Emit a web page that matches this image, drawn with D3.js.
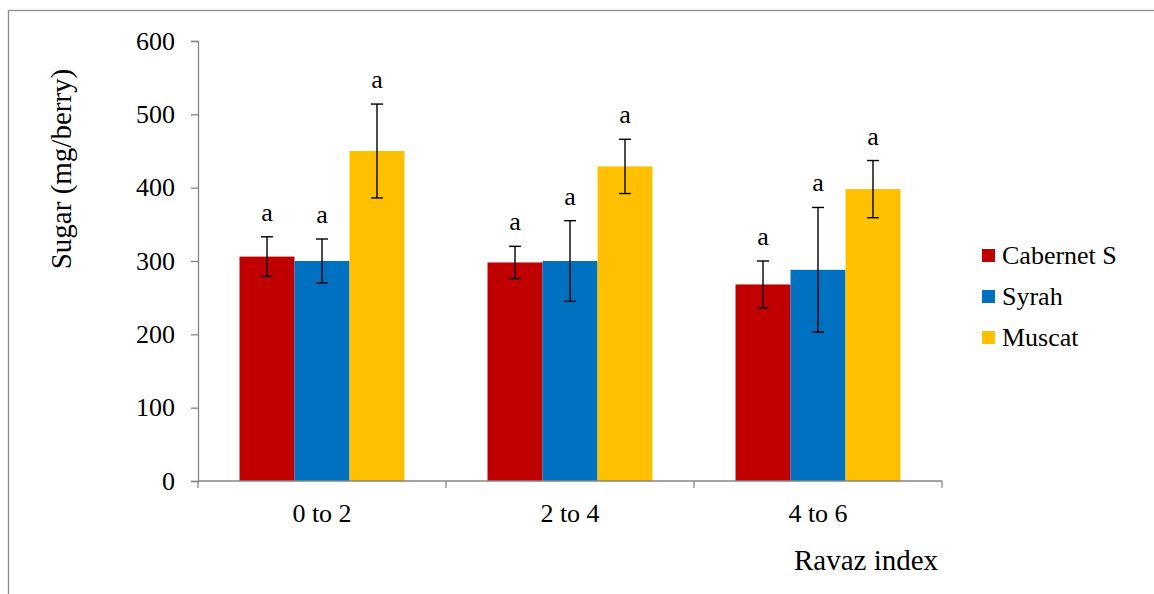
<!DOCTYPE html>
<html>
<head>
<meta charset="utf-8">
<script src="https://cdn.jsdelivr.net/npm/d3@7"></script>
<style>
  html, body { margin: 0; padding: 0; background: #fff; }
  svg { display: block; }
</style>
</head>
<body>
<svg id="chart" width="1154" height="594"></svg>
<script>
// ---- data ----
const categories = ["0 to 2", "2 to 4", "4 to 6"];
const seriesNames = ["Cabernet S", "Syrah", "Muscat"];
const cabernetValues = [306, 298, 268];
const cabernetErrors = [27, 22, 32];
const syrahValues = [300, 300, 288];
const syrahErrors = [30, 55, 85];
const muscatValues = [450, 429, 398];
const muscatErrors = [64, 37, 39];
const significanceLetters = ["a", "a", "a"];
const yTicks = [0, 100, 200, 300, 400, 500, 600];
const yTitle = "Sugar (mg/berry)";
const xTitle = "Ravaz index";

const colors = ["#C00000", "#0070C0", "#FFC000"];
const seriesValues = [cabernetValues, syrahValues, muscatValues];
const seriesErrors = [cabernetErrors, syrahErrors, muscatErrors];
const FONT = "'Liberation Serif', 'Times New Roman', 'DejaVu Serif', serif";

const svg = d3.select("#chart");

// chart border
svg.append("rect")
  .attr("x", 8.5).attr("y", 10.5)
  .attr("width", 1170).attr("height", 600)
  .attr("fill", "none").attr("stroke", "#8c8c8c").attr("stroke-width", 1.3);

const plotLeft = 198, plotRight = 942, plotTop = 41, plotBottom = 481;

const x0 = d3.scaleBand().domain(categories).range([plotLeft, plotRight]).padding(0);
const x1 = d3.scaleBand().domain(seriesNames).range([0, x0.bandwidth()])
  .paddingInner(0).paddingOuter(0.755);
const y = d3.scaleLinear().domain([0, 600]).range([plotBottom, plotTop]);

const axisColor = "#868686";

// bars
const data = [];
categories.forEach((c, ci) => {
  seriesNames.forEach((s, si) => {
    data.push({ c, s, si, v: seriesValues[si][ci], e: seriesErrors[si][ci], l: significanceLetters[si] });
  });
});

const g = svg.append("g");
g.selectAll("rect.bar").data(data).enter().append("rect")
  .attr("class", "bar")
  .attr("x", d => x0(d.c) + x1(d.s))
  .attr("y", d => y(d.v))
  .attr("width", x1.bandwidth())
  .attr("height", d => y(0) - y(d.v))
  .attr("fill", d => colors[d.si]);

// axes
const yAxis = d3.axisLeft(y).tickValues(yTicks).tickSize(7).tickPadding(16).tickFormat(d3.format("d"));
const ya = svg.append("g").attr("transform", `translate(${plotLeft},0)`).call(yAxis);
ya.attr("font-family", null).attr("font-size", null);
ya.select(".domain").attr("stroke", axisColor).attr("stroke-width", 1.3);
ya.selectAll(".tick line").attr("stroke", axisColor).attr("stroke-width", 1.3);
ya.selectAll(".tick text").style("font-size", "26px").style("font-family", FONT).attr("fill", "#000");

const xa = svg.append("g").attr("transform", `translate(0,${plotBottom})`);
xa.append("line").attr("x1", plotLeft).attr("x2", plotRight).attr("y1", 0).attr("y2", 0)
  .attr("stroke", axisColor).attr("stroke-width", 1.3);
const xBounds = categories.map(c => x0(c)).concat([plotRight]);
xa.selectAll("line.tk").data(xBounds).enter().append("line")
  .attr("class", "tk")
  .attr("x1", d => d).attr("x2", d => d).attr("y1", 0).attr("y2", 7)
  .attr("stroke", axisColor).attr("stroke-width", 1.3);
xa.selectAll("text.cat").data(categories).enter().append("text")
  .attr("class", "cat")
  .attr("x", d => x0(d) + x0.bandwidth() / 2)
  .attr("y", 41)
  .attr("text-anchor", "middle")
  .style("font-size", "26px").style("font-family", FONT)
  .text(d => d);

// error bars
const eb = svg.append("g").attr("stroke", "#000").attr("stroke-width", 1.4);
const cx = d => x0(d.c) + x1(d.s) + x1.bandwidth() / 2;
eb.selectAll("line.v").data(data).enter().append("line")
  .attr("x1", cx).attr("x2", cx)
  .attr("y1", d => y(d.v + d.e)).attr("y2", d => y(d.v - d.e));
eb.selectAll("line.t").data(data).enter().append("line")
  .attr("x1", d => cx(d) - 6).attr("x2", d => cx(d) + 6)
  .attr("y1", d => y(d.v + d.e)).attr("y2", d => y(d.v + d.e));
eb.selectAll("line.b").data(data).enter().append("line")
  .attr("x1", d => cx(d) - 6).attr("x2", d => cx(d) + 6)
  .attr("y1", d => y(d.v - d.e)).attr("y2", d => y(d.v - d.e));

// letters
svg.selectAll("text.sig").data(data).enter().append("text")
  .attr("class", "sig")
  .attr("x", cx)
  .attr("y", d => y(d.v + d.e) - 16)
  .attr("text-anchor", "middle")
  .style("font-size", "26px").style("font-family", FONT)
  .text(d => d.l);

// axis titles
svg.append("text")
  .attr("transform", `translate(71,169) rotate(-90)`)
  .attr("text-anchor", "middle")
  .style("font-size", "29px").style("font-family", FONT)
  .text(yTitle);
svg.append("text")
  .attr("x", 866).attr("y", 570)
  .attr("text-anchor", "middle")
  .style("font-size", "29px").style("font-family", FONT)
  .text(xTitle);

// legend
const lg = svg.append("g").attr("transform", "translate(982,249)");
const items = lg.selectAll("g").data(seriesNames).enter().append("g")
  .attr("transform", (d, i) => `translate(0,${i * 41})`);
items.append("rect").attr("width", 13).attr("height", 13).attr("fill", (d, i) => colors[i]);
items.append("text").attr("x", 20).attr("y", 15)
  .style("font-size", "26px").style("font-family", FONT)
  .text(d => d);
</script>
</body>
</html>
